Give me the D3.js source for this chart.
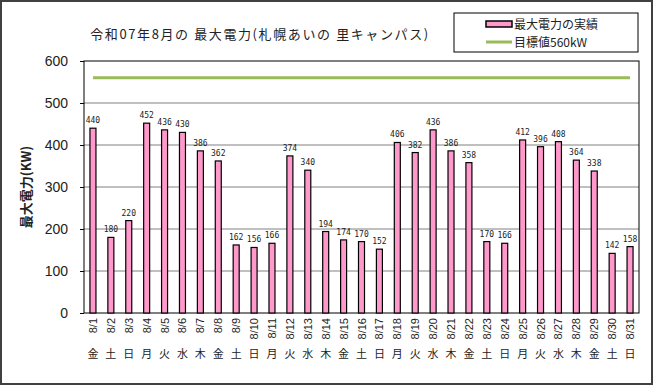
<!DOCTYPE html>
<html>
<head>
<meta charset="utf-8">
<script src="https://cdn.jsdelivr.net/npm/d3@7"></script>
<style>
  body { margin: 0; background: #fff; }
  svg text { font-family: "Noto Sans CJK JP", "DejaVu Sans", sans-serif; fill: #222; }
</style>
</head>
<body>
<svg id="chart" width="653" height="385"></svg>
<script>
// data
var days = ["8/1","8/2","8/3","8/4","8/5","8/6","8/7","8/8","8/9","8/10","8/11","8/12","8/13","8/14","8/15","8/16",
            "8/17","8/18","8/19","8/20","8/21","8/22","8/23","8/24","8/25","8/26","8/27","8/28","8/29","8/30","8/31"];
var weekdays = ["金","土","日","月","火","水","木","金","土","日","月","火","水","木","金","土",
                "日","月","火","水","木","金","土","日","月","火","水","木","金","土","日"];
var peakPower = [440,180,220,452,436,430,386,362,162,156,166,374,340,194,174,170,
                 152,406,382,436,386,358,170,166,412,396,408,364,338,142,158];
var target = 560;
var yTicks = [0,100,200,300,400,500,600];

var svg = d3.select("#chart"),
    margin = { top: 61, right: 14, bottom: 72, left: 84 },
    width = +svg.attr("width") - margin.left - margin.right,
    height = +svg.attr("height") - margin.top - margin.bottom;

// outer frame
svg.append("rect")
    .attr("x", 1).attr("y", 1)
    .attr("width", 651).attr("height", 383)
    .attr("fill", "#fff")
    .attr("stroke", "#404040")
    .attr("stroke-width", 2);

var x = d3.scaleBand().domain(days).range([0, width]),
    y = d3.scaleLinear().domain([0, 600]).range([height, 0]);

var g = svg.append("g")
    .attr("transform", "translate(" + margin.left + "," + margin.top + ")");

// gridlines
g.selectAll(".grid")
    .data(yTicks.filter(d => d > 0 && d < 600))
    .enter().append("line")
    .attr("x1", 0).attr("x2", width)
    .attr("y1", d => y(d)).attr("y2", d => y(d))
    .attr("stroke", "#808080")
    .attr("stroke-width", 1);

// plot box
g.append("rect")
    .attr("width", width).attr("height", height)
    .attr("fill", "none")
    .attr("stroke", "#000")
    .attr("stroke-width", 1);

// y axis
var yAxis = g.append("g")
    .call(d3.axisLeft(y).tickValues(yTicks).tickSize(4).tickPadding(12));
yAxis.select(".domain").remove();
yAxis.selectAll("line").attr("stroke", "#000");
yAxis.selectAll("text")
    .style("font-size", "14px")
    .style("font-family", "'Liberation Sans', Arial, sans-serif")
    .attr("fill", "#333");

// bars
var barW = 6;
g.selectAll(".bar")
    .data(peakPower)
    .enter().append("rect")
    .attr("x", (d, i) => x(days[i]) + x.bandwidth() / 2 - barW / 2)
    .attr("y", d => y(d))
    .attr("width", barW)
    .attr("height", d => height - y(d))
    .attr("fill", "#ff99cc")
    .attr("stroke", "#000")
    .attr("stroke-width", 1.2);

// bar value labels
g.selectAll(".val")
    .data(peakPower)
    .enter().append("text")
    .attr("x", (d, i) => x(days[i]) + x.bandwidth() / 2)
    .attr("y", d => y(d) - 5)
    .attr("text-anchor", "middle")
    .style("font-size", "8px")
    .style("font-family", "'DejaVu Sans Mono', monospace")
    .attr("fill", "#222")
    .text(d => d);

// target line
var line = d3.line()
    .x(d => x(d) + x.bandwidth() / 2)
    .y(() => y(target));
g.append("path")
    .datum([days[0], days[days.length - 1]])
    .attr("d", line)
    .attr("stroke", "#9bbb59")
    .attr("stroke-width", 3)
    .attr("fill", "none");

// x labels (dates, rotated)
g.selectAll(".day")
    .data(days)
    .enter().append("text")
    .attr("transform", d => "translate(" + (x(d) + x.bandwidth() / 2 + 4) + "," + (height + 5) + ") rotate(-90)")
    .attr("text-anchor", "end")
    .style("font-size", "11px")
    .style("font-family", "'Liberation Sans', Arial, sans-serif")
    .text(d => d);

// weekday labels
g.selectAll(".wd")
    .data(weekdays)
    .enter().append("text")
    .attr("x", (d, i) => x(days[i]) + x.bandwidth() / 2)
    .attr("y", height + 45)
    .attr("text-anchor", "middle")
    .style("font-size", "11px")
    .text(d => d);

// y axis title
svg.append("text")
    .attr("transform", "translate(31,187) rotate(-90)")
    .attr("text-anchor", "middle")
    .style("font-size", "13px")
    .style("font-weight", "bold")
    .text("最大電力(KW)");

// title
svg.append("text")
    .attr("x", 260).attr("y", 39)
    .attr("text-anchor", "middle")
    .style("font-size", "13px")
    .style("letter-spacing", "1.6px")
    .text("令和07年8月の 最大電力(札幌あいの 里キャンパス)");

// legend
var legend = svg.append("g").attr("transform", "translate(454,13)");
legend.append("rect")
    .attr("width", 184).attr("height", 39)
    .attr("fill", "#fff")
    .attr("stroke", "#000");
legend.append("rect")
    .attr("x", 32).attr("y", 8)
    .attr("width", 26).attr("height", 6)
    .attr("fill", "#ff99cc")
    .attr("stroke", "#000")
    .attr("stroke-width", 1.5);
legend.append("text")
    .attr("x", 60).attr("y", 16)
    .style("font-size", "12px")
    .text("最大電力の実績");
legend.append("line")
    .attr("x1", 32).attr("x2", 58)
    .attr("y1", 29).attr("y2", 29)
    .attr("stroke", "#9bbb59")
    .attr("stroke-width", 3);
legend.append("text")
    .attr("x", 60).attr("y", 34)
    .style("font-size", "12px")
    .text("目標値560kW");
</script>
</body>
</html>
